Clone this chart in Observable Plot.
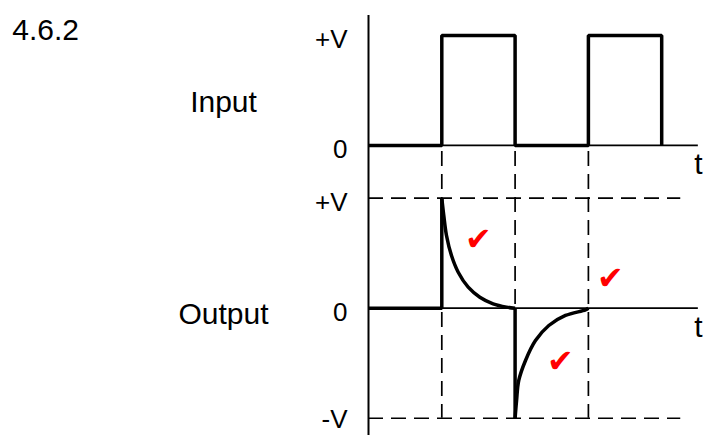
<!DOCTYPE html>
<html>
<head>
<meta charset="utf-8">
<script src="https://cdn.jsdelivr.net/npm/d3@7"></script>
<script src="https://cdn.jsdelivr.net/npm/@observablehq/plot@0.6"></script>
<style>
  html, body { margin: 0; padding: 0; background: #fff; }
  #chart svg { display: block; }
</style>
</head>
<body>
<div id="chart"></div>
<script>
// ---- data (time in half-periods, voltage in units of V) ----
const heading = "4.6.2";
const panelNames = ["Input", "Output"];
const axisName = "t";

// Input square wave
const inputT = [0, 1, 1, 2, 2, 3, 3, 4, 4];
const inputV = [0, 0, 1, 1, 0, 0, 1, 1, 0];

// Output: flat then step up
const outStepT = [0, 1, 1];
const outStepV = [0, 0, 1];
// Output: decay after the rising edge
const decay1T = [1.0, 1.027, 1.064, 1.132, 1.224, 1.36, 1.519, 1.70, 1.883, 2.0];
const decay1V = [1.0, 0.843, 0.661, 0.479, 0.327, 0.191, 0.10, 0.04, 0.01, 0];
// Output: step down at falling edge
const outDropT = [2, 2];
const outDropV = [0, -1];
// Output: recovery after the falling edge
const decay2T = [2.0, 2.02, 2.05, 2.142, 2.278, 2.46, 2.687, 2.96, 3.0];
const decay2V = [-1.0, -0.84, -0.657, -0.475, -0.294, -0.157, -0.066, -0.015, 0];

// Tick labels
const tickPanel = ["Input", "Input", "Output", "Output", "Output"];
const tickLevel = [1, 0, 1, 0, -1];
const tickLabel = ["+V", "0", "+V", "0", "-V"];

// Guide lines
const edgeTimes = [1, 2, 3];
const guideLevels = [1, -1];

// Check marks
const checkT = [1.50, 3.30, 2.62];
const checkV = [0.62, 0.27, -0.49];

// ---- layout ----
const inputOffset = 1.48;          // vertical offset of the input trace
const axisEnd = 4.5;               // end of time axes
const guideEnd = 4.26;             // end of dashed level guides
const font = "'Liberation Sans', Arial, Helvetica, sans-serif";

const panelY = (p, v) => p === "Input" ? v + inputOffset : v;
const zip = (a, b) => a.map((x, i) => ({t: x, v: b[i]}));

const thick = {stroke: "#000", strokeWidth: 3.5, strokeLinejoin: "miter", strokeLinecap: "butt"};

const ticks = tickLevel.map((v, i) => ({y: panelY(tickPanel[i], v), label: tickLabel[i], low: v < 0}));

const plot = Plot.plot({
  width: 704,
  height: 435,
  margin: 0,
  x: {domain: [0, 4.584], range: [368, 704], axis: null},
  y: {domain: [-1.157, 2.797], range: [435, 0], axis: null},
  style: {fontFamily: font, background: "#fff"},
  marks: [
    // dashed vertical guides at edges
    Plot.ruleX(edgeTimes, {x: d => d, y1: inputOffset, y2: -1, stroke: "#000", strokeWidth: 1.7, strokeDasharray: "15,8", strokeDashoffset: -6}),
    // dashed horizontal level guides
    Plot.ruleY(guideLevels, {y: d => d, x1: 0, x2: guideEnd, stroke: "#000", strokeWidth: 1.7, strokeDasharray: "15,8"}),
    // vertical axis
    Plot.ruleX([0], {y1: 2.66, y2: -1.157, stroke: "#000", strokeWidth: 2}),
    // time axes
    Plot.ruleY([inputOffset, 0], {y: d => d, x1: 0, x2: axisEnd, stroke: "#000", strokeWidth: 1.8}),
    // input trace
    Plot.line(zip(inputT, inputV), {x: "t", y: d => d.v + inputOffset, ...thick}),
    // output trace
    Plot.line(zip(outStepT, outStepV), {x: "t", y: "v", ...thick}),
    Plot.line(zip(decay1T, decay1V), {x: "t", y: "v", curve: "catmull-rom", ...thick}),
    Plot.line(zip(outDropT, outDropV), {x: "t", y: "v", ...thick}),
    Plot.line(zip(decay2T, decay2V), {x: "t", y: "v", curve: "catmull-rom", ...thick}),
    // tick labels
    Plot.text(ticks.filter(d => !d.low), {x: 0, y: "y", text: "label", textAnchor: "end", dx: -21, dy: 4, fontSize: 26, fill: "#000"}),
    Plot.text(ticks.filter(d => d.low), {x: 0, y: "y", text: "label", textAnchor: "end", dx: -21, dy: 1, fontSize: 26, fill: "#000"}),
    // axis names "t"
    Plot.text([inputOffset, 0], {x: axisEnd, y: d => d - 0.175, text: () => axisName, fontSize: 30, fill: "#000"}),
    // panel names
    Plot.text(panelNames, {x: -1.978, y: d => panelY(d, d === "Input" ? 0.39 : -0.053), text: d => d, fontSize: 30, fill: "#000"}),
    // heading
    Plot.text([heading], {x: -4.861, y: 2.527, text: d => d, textAnchor: "start", fontSize: 30, fill: "#000"}),
    // check marks
    Plot.text(zip(checkT, checkV), {x: "t", y: "v", text: () => "\u2714", fontSize: 32, fill: "#ff0000"})
  ]
});
document.getElementById("chart").appendChild(plot);
</script>
</body>
</html>
